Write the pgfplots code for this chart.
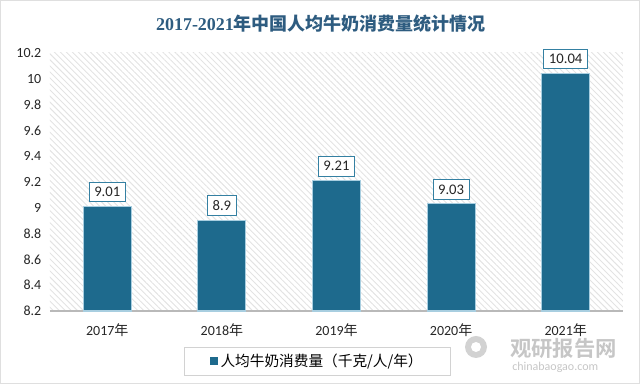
\documentclass[border=0pt]{standalone}
\usepackage{fontspec}
\usepackage{pgfplots}
\pgfplotsset{compat=1.18}
\usetikzlibrary{patterns.meta,calc}
\setmainfont{Carlito}
\newfontfamily\cjk{Noto Sans CJK SC}
\newfontfamily\cjkb{Noto Sans CJK SC Bold}
\newfontfamily\titleserif{Liberation Serif}
\definecolor{barc}{RGB}{30,106,141}
\definecolor{barglow}{RGB}{168,206,224}
\definecolor{lblbox}{RGB}{52,128,162}
\definecolor{titlec}{RGB}{46,92,128}
\begin{document}
\begin{tikzpicture}[x=0.75pt,y=0.75pt]
\begin{axis}[
  scale only axis,
  width=429.75pt, height=193.5pt,
  xmin=-0.5, xmax=4.5, ymin=8.2, ymax=10.2,
  ytick={8.2,8.4,8.6,8.8,9,9.2,9.4,9.6,9.8,10,10.2},
  xtick={0,1,2,3,4},
  xticklabels={2017{\cjk 年},2018{\cjk 年},2019{\cjk 年},2020{\cjk 年},2021{\cjk 年}},
  axis x line*=bottom, axis y line*=left,
  x axis line style={draw=gray!55, line width=0.8pt, -},
  y axis line style={draw=none},
  tick style={draw=none},
  /pgf/number format/assume math mode=true,
  ticklabel style={font=\fontsize{10.5}{12}\selectfont, text=black!85},
  yticklabel style={xshift=-3pt},
  xticklabel style={yshift=-2pt},
  axis background/.style={pattern={Lines[angle=-45,distance=3.2pt,line width=0.7pt]}, pattern color=gray!22},
  ybar, bar width=36pt, bar shift=0pt,
  nodes near coords,
  nodes near coords style={draw=lblbox, fill=white, text=black!85, line width=0.7pt, inner xsep=3.8pt, inner ysep=3.8pt, anchor=south, yshift=3.2pt, font=\fontsize{11}{12}\selectfont, /pgf/number format/assume math mode=true},
  legend style={at={(rel axis cs:0.467,-0.194)}, anchor=center, draw=gray!35, line width=0.6pt, inner xsep=19pt, inner ysep=3pt, font=\cjk\fontsize{11}{13}\selectfont},
  legend image code/.code={\fill[barc] (0pt,-2.6pt) rectangle (5.2pt,2.6pt);},
  clip=false,
]
\addplot[fill=barc, draw=barglow, line width=0.8pt] coordinates {(0,9.01) (1,8.9) (2,9.21) (3,9.03) (4,10.04)};
\addlegendentry{人均牛奶消费量（千克/人/年）}
\coordinate (bl) at (rel axis cs:0,0);
\end{axis}
\pgfresetboundingbox
\begin{scope}[shift={($(bl)+(-50,-73)$)}]
\path[use as bounding box] (0,0) rectangle (640,384);
\draw[gray!25, line width=0.6pt] (0.5,0.5) rectangle (639.5,383.5);
\node[text=titlec, font=\fontsize{13.5}{15}\selectfont] at (321,360) {\titleserif\bfseries 2017-2021\cjkb 年中国人均牛奶消费量统计情况};
\fill[gray!35] (476,37) circle (11);
\fill[white] (476,37) circle (5);
\node[inner sep=0pt, text=gray!45, font=\cjkb\fontsize{16}{17}\selectfont, anchor=west] at (510,36) {观研报告网};
\node[inner sep=0pt, text=gray!45, font=\fontsize{9}{10}\selectfont, anchor=west] at (512,17) {chinabaogao.com};
\end{scope}
\end{tikzpicture}
\end{document}
